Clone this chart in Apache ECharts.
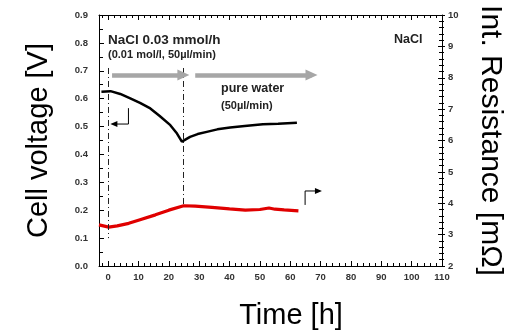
<!DOCTYPE html>
<html>
<head>
<meta charset="utf-8">
<script src="https://cdn.jsdelivr.net/npm/echarts@6/dist/echarts.min.js"></script>
<style>
  html, body { margin: 0; padding: 0; background: #fff; }
  #main { width: 506px; height: 336px; }
</style>
</head>
<body>
<div id="main"></div>
<script>
// cell voltage (left axis)
var hoursV = [-2.2, 0.8, 4, 7.3, 10.5, 13.9, 17, 20.5, 22.5, 24.3, 24.9, 27, 29.5, 32.5, 36, 40.2, 45, 51, 56, 62.2];
var voltage = [0.625, 0.627, 0.617, 0.601, 0.585, 0.565, 0.538, 0.505, 0.478, 0.446, 0.44, 0.463, 0.473, 0.481, 0.49, 0.497, 0.502, 0.508, 0.51, 0.514];
// internal resistance (right axis)
var hoursR = [-3, 0.2, 3, 6.8, 10, 15.6, 20, 24.9, 28.7, 34.2, 40, 45.2, 50, 53, 55, 58, 62.7];
var resistance = [3.31, 3.24, 3.28, 3.36, 3.46, 3.63, 3.78, 3.92, 3.91, 3.87, 3.82, 3.78, 3.8, 3.85, 3.81, 3.79, 3.76];

// annotations (time, voltage)
var switchLines = [[[0.2, 0.71], [0.2, 0.1]], [[24.8, 0.71], [24.8, 0.216]]];
var flowArrows = [[[1.3, 0.685], [24.8, 0.685]], [[28.7, 0.685], [67, 0.685]]];
var leftHook = [[6.7, 0.566], [6.7, 0.509], [1.9, 0.509]];
var rightHook = [[64.9, 0.219], [64.9, 0.269], [69.3, 0.269]];

var tickFont = { color: '#333', fontSize: 9.5, fontWeight: 'bold', fontFamily: 'Liberation Sans, Arial' };
var nameFont = { color: '#000', fontSize: 29, fontFamily: 'Liberation Sans, Arial' };

function pair(a, b, arrow) {
	return [{ coord: a, symbol: 'none' }, { coord: b, symbol: arrow ? 'triangle' : 'none' }];
}
//刻度
function ticks(len, minorLen, minorSplit, inside) {
	return {
		axisTick: { show: true, inside: inside, length: len },
		minorTick: { show: true, splitNumber: minorSplit, length: minorLen }
	}
}
function line() { return { show: true, onZero: false, lineStyle: { color: '#000', width: 1 } } }
//折线箭头
function hook(h, rot) {
	return {
		type: 'line', xAxisIndex: 0, yAxisIndex: 0, silent: true, z: 2, symbol: 'triangle', showSymbol: true,
		lineStyle: { color: '#000', width: 1 }, itemStyle: { color: '#000' },
		data: h.map(function(p, i) {
			return i < h.length - 1 ? { value: p, symbol: 'none' } : { value: p, symbolSize: [6, 7], symbolRotate: rot };
		})
	}
}

var chart = echarts.init(document.getElementById('main'));
var option = {
	animation: false,
	grid: { left: 99, right: 64, top: 15, bottom: 70, containLabel: false, outerBoundsMode: 'none' },
	xAxis: [Object.assign({
		type: 'value', min: -3, max: 110, splitNumber: 11,
		axisLine: line(),
		axisLabel: Object.assign({ margin: 6, showMinLabel: false }, tickFont),
		splitLine: { show: false }
	}, ticks(5, 3, 5, true)), Object.assign({
		type: 'value', min: -3, max: 110, splitNumber: 11, position: 'top',
		axisLine: line(),
		axisLabel: { show: false },
		splitLine: { show: false }
	}, ticks(5, 3, 5, true))],
	yAxis: [Object.assign({
		type: 'value', min: 0, max: 0.9, interval: 0.1,
		name: 'Cell voltage [V]', nameLocation: 'middle', nameRotate: 90, nameGap: 46, nameTextStyle: nameFont,
		axisLine: line(),
		axisLabel: Object.assign({ margin: 11, formatter: function(v) { return v.toFixed(1) } }, tickFont),
		splitLine: { show: false }
	}, ticks(5, 4, 2, true)), Object.assign({
		type: 'value', min: 2, max: 10, interval: 1, position: 'right',
		name: 'Int. Resistance [mΩ]', nameLocation: 'middle', nameRotate: -90, nameGap: 33,
		nameTextStyle: Object.assign({}, nameFont, { fontSize: 30 }),
		axisLine: line(),
		axisLabel: Object.assign({ margin: 6 }, tickFont),
		splitLine: { show: false }
	}, ticks(4, 3, 5, true)), Object.assign({
		// outer half of the right ticks
		type: 'value', min: 2, max: 10, interval: 1, position: 'right',
		axisLine: { show: false, onZero: false, lineStyle: { color: '#000' } },
		axisLabel: { show: false },
		splitLine: { show: false }
	}, ticks(3, 2, 5, false))],
	series: [{
		type: 'line', xAxisIndex: 0, yAxisIndex: 0, showSymbol: false, silent: true, z: 3,
		data: hoursV.map(function(t, i) { return [t, voltage[i]] }),
		lineStyle: { color: '#000', width: 2.5 }
	}, {
		type: 'line', xAxisIndex: 0, yAxisIndex: 1, showSymbol: false, silent: true, z: 3,
		data: hoursR.map(function(t, i) { return [t, resistance[i]] }),
		lineStyle: { color: '#e00000', width: 3.2 }
	}, {
		// annotations
		type: 'line', xAxisIndex: 0, yAxisIndex: 0, data: [], silent: true, z: 2,
		markLine: {
			silent: true, animation: false,
			label: { show: false },
			emphasis: { disabled: true },
			data: [].concat(
				switchLines.map(function(l) {
					var d = pair(l[0], l[1], false);
					d[0].lineStyle = { color: '#222', width: 1, type: [6, 3, 1, 3] };
					return d;
				}),
				flowArrows.map(function(l) {
					var d = pair(l[0], l[1], true);
					d[1].symbolSize = [11, 12];
					d[0].lineStyle = { color: '#a6a6a6', width: 4.5, type: 'solid' };
					return d;
				})
			)
		}
	}, hook(leftHook, 90), hook(rightHook, -90)],
	graphic: [
		{ type: 'text', x: 108, y: 40, style: { text: 'NaCl 0.03 mmol/h', font: 'bold 13.5px Liberation Sans, Arial', fill: '#222', textVerticalAlign: 'middle' } },
		{ type: 'text', x: 108, y: 55, style: { text: '(0.01 mol/l, 50µl/min)', font: 'bold 11px Liberation Sans, Arial', fill: '#222', textVerticalAlign: 'middle' } },
		{ type: 'text', x: 221, y: 89, style: { text: 'pure water', font: 'bold 12.5px Liberation Sans, Arial', fill: '#222', textVerticalAlign: 'middle' } },
		{ type: 'text', x: 221, y: 106, style: { text: '(50µl/min)', font: 'bold 11px Liberation Sans, Arial', fill: '#222', textVerticalAlign: 'middle' } },
		{ type: 'text', x: 394, y: 40, style: { text: 'NaCl', font: 'bold 12.5px Liberation Sans, Arial', fill: '#222', textVerticalAlign: 'middle' } },
		{ type: 'text', x: 291, y: 316, style: { text: 'Time [h]', font: '29px Liberation Sans, Arial', fill: '#000', textAlign: 'center', textVerticalAlign: 'middle' } }
	]
};
chart.setOption(option);
</script>
</body>
</html>
